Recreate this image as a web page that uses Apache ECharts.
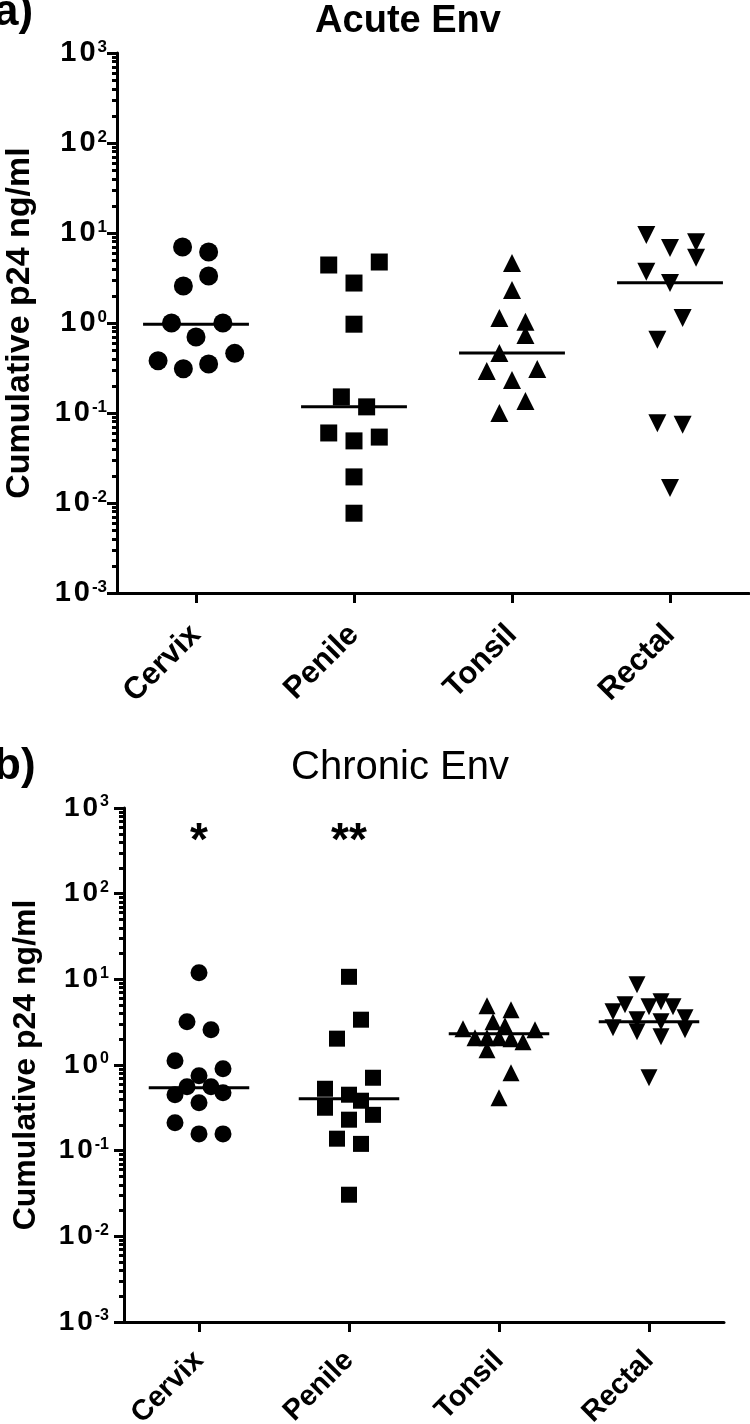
<!DOCTYPE html>
<html><head><meta charset="utf-8">
<script src="https://cdn.jsdelivr.net/npm/echarts@6/dist/echarts.min.js"></script>
<style>html,body{margin:0;padding:0;background:#fff}#c{width:750px;height:1424px}</style>
</head><body><div id="c"></div>
<script>
// ---------- data ----------
const categories = ['Cervix', 'Penile', 'Tonsil', 'Rectal'];
const yMajorTicks = [0.001, 0.01, 0.1, 1, 10, 100, 1000];
const yTickExponents = ['-3', '-2', '-1', '0', '1', '2', '3'];
const panelTitles = ['Acute Env', 'Chronic Env'];
const panelLetters = ['a)', 'b)'];
const yAxisName = 'Cumulative p24 ng/ml';

// points: [jitter offset within category (category units), cumulative p24 ng/ml]
const acuteCervix = [[-0.085, 7.0], [0.08, 6.15], [0.08, 3.33], [-0.08, 2.58], [-0.155, 1.0], [0.17, 1.0], [0, 0.70], [0.245, 0.46], [-0.24, 0.38], [0.08, 0.35], [-0.08, 0.31]];
const acutePenile = [[-0.16, 4.41], [0.16, 4.76], [0, 2.78], [0, 0.97], [-0.08, 0.151], [0.08, 0.117], [-0.16, 0.060], [0, 0.049], [0.16, 0.054], [0, 0.0195], [0, 0.0077]];
const acuteTonsil = [[0, 4.64], [0, 2.33], [-0.08, 1.14], [0.085, 1.03], [0.085, 0.735], [-0.08, 0.464], [-0.16, 0.293], [0.16, 0.308], [0, 0.232], [0.085, 0.136], [-0.08, 0.10]];
const acuteRectal = [[-0.15, 9.5], [0.165, 7.9], [0, 6.8], [0.165, 5.3], [-0.15, 3.7], [0, 2.78], [0.08, 1.14], [-0.08, 0.65], [-0.08, 0.077], [0.08, 0.074], [0, 0.0147]];
const acuteMedians = [0.97, 0.117, 0.464, 2.8];

const chronicCervix = [[0, 11.95], [-0.08, 3.2], [0.08, 2.58], [-0.16, 1.12], [0.16, 0.906], [0, 0.75], [-0.08, 0.558], [0.08, 0.558], [0.16, 0.474], [-0.16, 0.45], [0, 0.363], [-0.16, 0.212], [0, 0.157], [0.16, 0.157]];
const chronicPenile = [[0, 10.7], [0.08, 3.38], [-0.08, 2.03], [0.16, 0.71], [-0.16, 0.528], [0, 0.45], [0.08, 0.383], [-0.16, 0.317], [0.16, 0.262], [0, 0.23], [-0.08, 0.138], [0.08, 0.12], [0, 0.0306]];
const chronicTonsil = [[-0.08, 4.92], [0.08, 4.42], [-0.04, 3.2], [0.04, 2.87], [-0.24, 2.65], [0.24, 2.58], [-0.16, 2.08], [-0.08, 2.08], [0, 2.08], [0.08, 2.03], [0.16, 1.87], [-0.08, 1.51], [0.08, 0.81], [0, 0.415]];
const chronicRectal = [[-0.08, 8.66], [0.08, 5.48], [-0.16, 5.06], [0, 4.79], [0.16, 4.79], [-0.24, 4.19], [0.24, 3.56], [-0.08, 3.38], [0.08, 3.2], [-0.24, 2.72], [0.24, 2.58], [-0.08, 2.45], [0.08, 2.14], [0, 0.71]];
const chronicMedians = [0.543, 0.404, 2.32, 3.2];

const chronicSignificance = ['*', '**', '', ''];
const significanceLevel = 400;

// ---------- styling / layout ----------
const FONT = '"Liberation Sans", Arial, sans-serif';
const symbols = ['circle', 'rect', 'triangle', 'triangle'];
const symbolRotates = [0, 0, 0, 180];
const panels = [
  { groups: [acuteCervix, acutePenile, acuteTonsil, acuteRectal], medians: acuteMedians, sizes: [19, 17, 18, 18],
    grid: { left: 117, top: 53, width: 632, height: 540 }, tickFont: 29, supFont: 17, onePad: 3, labelMargin: 10,
    nameFont: 34, nameGap: 80, xFont: 31, xMargin: 37 },
  { groups: [chronicCervix, chronicPenile, chronicTonsil, chronicRectal], medians: chronicMedians, sizes: [17, 16, 17, 17],
    grid: { left: 124, top: 808, width: 600, height: 514 }, tickFont: 28, supFont: 16, onePad: 3, labelMargin: 15,
    nameFont: 32, nameGap: 82, xFont: 29, xMargin: 34 }
];

const minorTicks = [];
for (let e = -3; e < 3; e++) for (let k = 2; k <= 9; k++) minorTicks.push(k * Math.pow(10, e));

const grids = [], xAxes = [], yAxes = [], series = [];
panels.forEach((p, pi) => {
  grids.push(Object.assign({ containLabel: false, outerBoundsMode: 'none' }, p.grid));
  xAxes.push({
    type: 'value', gridIndex: pi, min: -0.5, max: 3.5,
    axisLine: { show: true, onZero: false, lineStyle: { color: '#000', width: 3 } },
    axisTick: { show: true, customValues: [0, 1, 2, 3], length: 10, lineStyle: { color: '#000', width: 3 } },
    axisLabel: { show: true, customValues: [0, 1, 2, 3], formatter: v => categories[Math.round(v)],
      rotate: 45, margin: p.xMargin, color: '#000', fontFamily: FONT, fontWeight: 'bold', fontSize: p.xFont },
    splitLine: { show: false }
  });
  const yBase = pi * 2;
  yAxes.push({
    type: 'log', logBase: 10, gridIndex: pi, position: 'left', min: 0.001, max: 1000,
    axisLine: { show: true, onZero: false, lineStyle: { color: '#000', width: 3 } },
    axisTick: { show: true, customValues: yMajorTicks, length: 10, lineStyle: { color: '#000', width: 3 } },
    axisLabel: {
      show: true, customValues: yMajorTicks, margin: p.labelMargin,
      fontFamily: FONT, fontWeight: 'bold', fontSize: p.tickFont, color: '#000',
      formatter: v => {
        const idx = yMajorTicks.findIndex(t => Math.abs(Math.log10(t) - Math.log10(v)) < 1e-6);
        return '{o|1}{b|0}{s|' + yTickExponents[idx] + '}';
      },
      rich: {
        o: { fontFamily: FONT, fontWeight: 'bold', fontSize: p.tickFont, color: '#000', padding: [0, p.onePad, 0, 0] },
        b: { fontFamily: FONT, fontWeight: 'bold', fontSize: p.tickFont, color: '#000' },
        s: { fontFamily: FONT, fontWeight: 'bold', fontSize: p.supFont, color: '#000', verticalAlign: 'top', padding: [0, 0, 0, 2] }
      }
    },
    splitLine: { show: false },
    name: yAxisName, nameLocation: 'middle', nameGap: p.nameGap,
    nameTextStyle: { fontFamily: FONT, fontWeight: 'bold', fontSize: p.nameFont, color: '#000' }
  });
  yAxes.push({
    type: 'log', logBase: 10, gridIndex: pi, position: 'left', offset: 0, min: 0.001, max: 1000,
    axisLine: { show: false, onZero: false },
    axisTick: { show: true, customValues: minorTicks, length: 5, lineStyle: { color: '#000', width: 3 } },
    axisLabel: { show: false },
    splitLine: { show: false }
  });
  p.groups.forEach((pts, ci) => {
    series.push({
      type: 'scatter', xAxisIndex: pi, yAxisIndex: yBase, silent: true,
      symbol: symbols[ci], symbolRotate: symbolRotates[ci], symbolSize: p.sizes[ci],
      itemStyle: { color: '#000', opacity: 1 },
      data: pts.map(([o, v]) => [ci + o, v]), z: 3
    });
  });
  series.push({
    type: 'custom', xAxisIndex: pi, yAxisIndex: yBase, silent: true, z: 4,
    data: p.medians.map((m, i) => [i, m]),
    renderItem: (params, api) => {
      const i = api.value(0), m = api.value(1);
      const a = api.coord([i - 0.335, m]), b = api.coord([i + 0.335, m]);
      return { type: 'line', shape: { x1: a[0], y1: a[1], x2: b[0], y2: b[1] }, style: { stroke: '#000', lineWidth: 3 } };
    }
  });
});

// significance marks (chronic panel)
series.push({
  type: 'scatter', xAxisIndex: 1, yAxisIndex: 2, silent: true, symbolSize: 0,
  itemStyle: { color: '#000', opacity: 1 },
  data: chronicSignificance.map((s, i) => [i, significanceLevel, s]).filter(d => d[2]),
  label: { show: true, position: 'inside', formatter: q => q.value[2], color: '#000', opacity: 1,
    textBorderWidth: 0, fontFamily: FONT, fontWeight: 'bold', fontSize: 46 }
});

const graphic = [
  { type: 'text', x: -6, y: -9, style: { text: panelLetters[0], font: 'bold 44px ' + FONT, fill: '#000' } },
  { type: 'text', x: 408, y: 3, style: { text: panelTitles[0], font: 'bold 38px ' + FONT, fill: '#000', align: 'center', textAlign: 'center' } },
  { type: 'text', x: -6, y: 745, style: { text: panelLetters[1], font: 'bold 44px ' + FONT, fill: '#000' } },
  { type: 'text', x: 400, y: 748, style: { text: panelTitles[1], font: '40px ' + FONT, fill: '#000', align: 'center', textAlign: 'center' } }
];

const chart = echarts.init(document.getElementById('c'), null, { renderer: 'canvas' });
chart.setOption({ animation: false, backgroundColor: '#fff', grid: grids, xAxis: xAxes, yAxis: yAxes, series, graphic });
</script></body></html>
